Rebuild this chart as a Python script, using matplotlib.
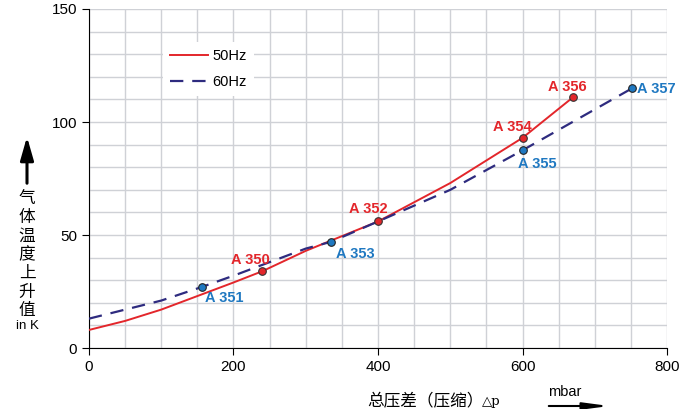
from matplotlib import pyplot as plt
import numpy as np

# 50Hz curve
x_50 = [0, 50, 100, 150, 200, 240, 300, 400, 500, 600, 670]
y_50 = [8, 12, 17, 23, 29, 34, 43, 56, 73, 93, 111]
# 60Hz curve
x_60 = [0, 50, 100, 156, 200, 250, 300, 335, 400, 500, 600, 752]
y_60 = [13, 17, 21, 27, 32, 38, 44, 47, 56, 70, 87.5, 115]

# labelled models
names_50 = ["A 350", "A 352", "A 354", "A 356"]
px_50 = [240, 400, 600, 670]
py_50 = [34, 56, 93, 111]
names_60 = ["A 351", "A 353", "A 355", "A 357"]
px_60 = [156, 335, 600, 752]
py_60 = [27, 47, 87.5, 115]

RED = "#e3262b"
NAVY = "#2e2b7f"
BLUE = "#1f78c1"
CJK = ["Noto Sans CJK SC", "DejaVu Sans"]

plt.rcParams["font.family"] = ["Liberation Sans", "Noto Sans CJK SC", "DejaVu Sans"]

fig = plt.figure(figsize=(7, 4.09), dpi=100)
ax = fig.add_axes([0.127, 0.149, 0.826, 0.829])

ax.plot(x_50, y_50, color=RED, lw=1.4, label="50Hz", zorder=3)
ax.plot(x_60, y_60, color=NAVY, lw=1.6, dashes=(6, 4), label="60Hz", zorder=3)
ax.scatter(px_50, py_50, s=30, color=RED, edgecolor="#333333", lw=0.8, zorder=4)
ax.scatter(px_60, py_60, s=30, color=BLUE, edgecolor="#222222", lw=0.8, zorder=4)

# label offsets in pixels
off_50 = [(-12, 11), (-10, 12), (-10, 11), (-6, 10)]
off_60 = [(23, -11), (24, -12), (15, -14), (5, -1)]
for name, x, y, off in zip(names_50, px_50, py_50, off_50):
    ax.annotate(name, (x, y), xytext=off, textcoords="offset pixels",
                ha="center", va="center", color=RED, fontsize=10.5, fontweight="bold")
for i, (name, x, y, off) in enumerate(zip(names_60, px_60, py_60, off_60)):
    ax.annotate(name, (x, y), xytext=off, textcoords="offset pixels",
                ha="left" if i == 3 else "center", va="center",
                color=BLUE, fontsize=10.5, fontweight="bold")

ax.set_xlim(0, 800)
ax.set_ylim(0, 150)
ax.set_xticks([0, 200, 400, 600, 800])
ax.set_yticks([0, 50, 100, 150])
ax.set_xticks(np.arange(0, 801, 50), minor=True)
ax.set_yticks(np.arange(0, 151, 10), minor=True)
ax.grid(which="both", color="#cfd1d6", lw=1.0)
ax.tick_params(which="minor", length=0)
ax.tick_params(which="major", direction="out", length=5, labelsize=11)
ax.spines["top"].set_visible(False)
ax.spines["right"].set_visible(False)
ax.set_axisbelow(True)

ax.legend(loc="upper left", bbox_to_anchor=(0.115, 0.925), frameon=True,
          fancybox=False, edgecolor="none", framealpha=1, fontsize=10.5,
          handlelength=2.6, handletextpad=0.3, labelspacing=0.8, borderpad=0.5)

# y axis caption: arrow + vertical Chinese text
ax.annotate("", xy=(27, 409 - 134), xycoords="figure pixels",
            xytext=(27, 409 - 186), textcoords="figure pixels",
            arrowprops=dict(arrowstyle="-|>,head_width=0.4,head_length=1.4",
                            color="black", lw=2.2))
for i, ch in enumerate("气体温度上升值"):
    fig.text(27 / 700, 1 - (199 + i * 18.6) / 409, ch, ha="center", va="center",
             fontsize=12, family=CJK)
fig.text(27 / 700, 1 - 326 / 409, "in K", ha="center", va="center", fontsize=9.5)

# x axis caption
fig.text(367 / 700, 1 - 402 / 409, "总压差（压缩）", ha="left", va="center",
         fontsize=12, family=CJK)
fig.text(482 / 700, 1 - 401 / 409, "△p", ha="left", va="center",
         fontsize=9.5, family=["DejaVu Serif"])
fig.text(548 / 700, 1 - 392 / 409, "mbar", ha="left", va="center", fontsize=10.5)
ax.annotate("", xy=(612, 409 - 406), xycoords="figure pixels",
            xytext=(546, 409 - 406), textcoords="figure pixels",
            arrowprops=dict(arrowstyle="-|>,head_width=0.2,head_length=1.5",
                            color="black", lw=1.5))

fig.savefig("out.png", dpi=100)
